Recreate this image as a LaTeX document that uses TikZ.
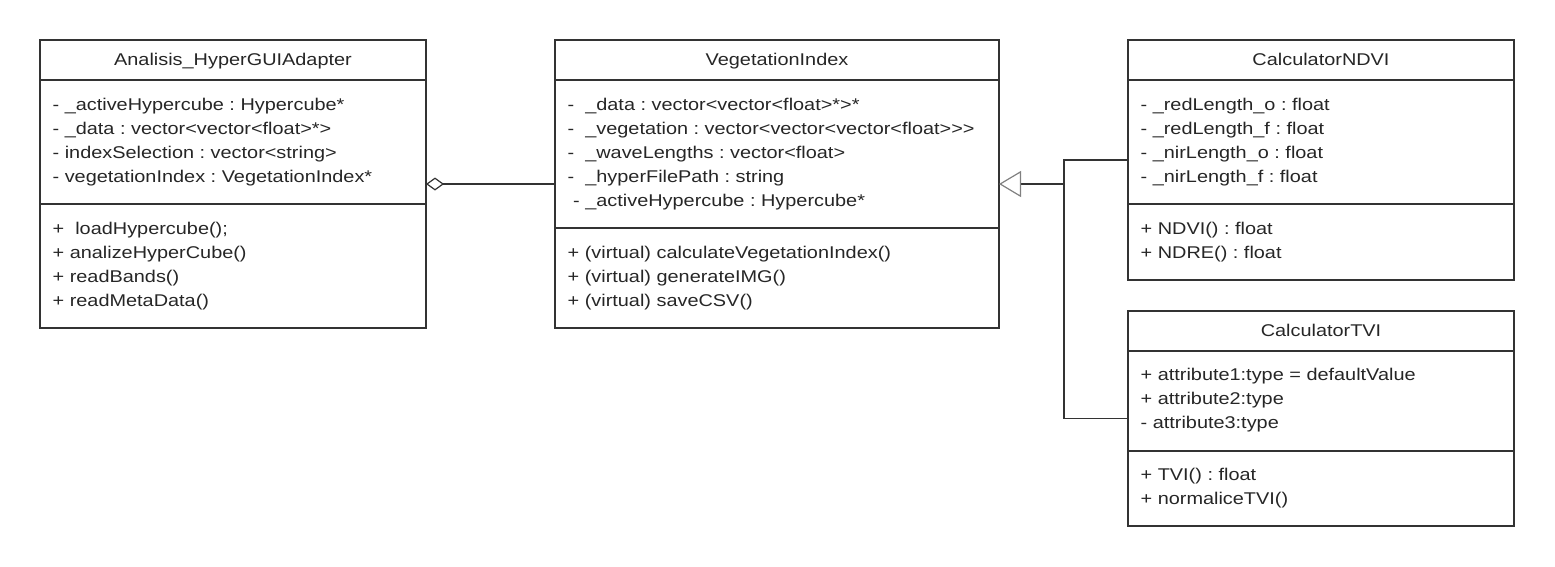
\documentclass[tikz,border=0pt]{standalone}
\usepackage{fontspec}
\setmainfont{Liberation Sans}[FakeStretch=1.17]
\usetikzlibrary{arrows.meta}
\definecolor{umlline}{HTML}{333333}
\definecolor{umltext}{HTML}{262626}

\begin{document}
\frenchspacing
\begin{tikzpicture}[x=1pt,y=-1pt,line width=1.3pt,>=latex,
    classbox/.style={draw=umlline,anchor=north west,inner sep=0pt,outer sep=0pt},
    title/.style={anchor=base,inner sep=0pt,text=umltext,font=\fontsize{17}{20}\selectfont},
    member/.style={anchor=base west,inner sep=0pt,text=umltext,font=\fontsize{17}{20}\selectfont}]

	\useasboundingbox (0,0) rectangle (1555,566);

	% class boxes
	\node[classbox,minimum width=386pt,minimum height=288pt] (adapter) at (40,40) {};
	\node[classbox,minimum width=444pt,minimum height=288pt] (vegidx) at (555,40) {};
	\node[classbox,minimum width=386pt,minimum height=240pt] (ndvi) at (1128,40) {};
	\node[classbox,minimum width=386pt,minimum height=215pt] (tvi) at (1128,311) {};

	% compartment lines
	\draw[umlline] (40,80) -- (426,80) (40,204) -- (426,204);
	\draw[umlline] (555,80) -- (999,80) (555,228) -- (999,228);
	\draw[umlline] (1128,80) -- (1514,80) (1128,204) -- (1514,204);
	\draw[umlline] (1128,351) -- (1514,351) (1128,451) -- (1514,451);

	% class names
	\node[title] (adapter-t) at (233,65) {Analisis\_HyperGUIAdapter};
	\node[title] (vegidx-t) at (777,65) {VegetationIndex};
	\node[title] (ndvi-t) at (1321,65) {CalculatorNDVI};
	\node[title] (tvi-t) at (1321,336) {CalculatorTVI};

	% Analisis_HyperGUIAdapter members
	\foreach \txt [count=\i] in {{- \_activeHypercube : Hypercube*},
	      {- \_data : vector<vector<float>*>},
	      {- indexSelection : vector<string>},
	      {- vegetationIndex : VegetationIndex*}}
	  \node[member] (adapter-a\i) at (52,{110+24*(\i-1)}) {\txt};
	\foreach \txt [count=\i] in {{+\ \ loadHypercube();},
	      {+ analizeHyperCube()},
	      {+ readBands()},
	      {+ readMetaData()}}
	  \node[member] (adapter-m\i) at (52,{234+24*(\i-1)}) {\txt};

	% VegetationIndex members
	\foreach \txt [count=\i] in {{-\ \ \_data : vector<vector<float>*>*},
	      {-\ \ \_vegetation : vector<vector<vector<float>{}>{}>},
	      {-\ \ \_waveLengths : vector<float>},
	      {-\ \ \_hyperFilePath : string},
	      {\ - \_activeHypercube : Hypercube*}}
	  \node[member] (vegidx-a\i) at (567,{110+24*(\i-1)}) {\txt};
	\foreach \txt [count=\i] in {{+ (virtual) calculateVegetationIndex()},
	      {+ (virtual) generateIMG()},
	      {+ (virtual) saveCSV()}}
	  \node[member] (vegidx-m\i) at (567,{258+24*(\i-1)}) {\txt};

	% CalculatorNDVI members
	\foreach \txt [count=\i] in {{- \_redLength\_o : float},
	      {- \_redLength\_f : float},
	      {- \_nirLength\_o : float},
	      {- \_nirLength\_f : float}}
	  \node[member] (ndvi-a\i) at (1140,{110+24*(\i-1)}) {\txt};
	\foreach \txt [count=\i] in {{+ NDVI() : float},
	      {+ NDRE() : float}}
	  \node[member] (ndvi-m\i) at (1140,{234+24*(\i-1)}) {\txt};

	% CalculatorTVI members
	\foreach \txt [count=\i] in {{+ attribute1:type = defaultValue},
	      {+ attribute2:type},
	      {- attribute3:type}}
	  \node[member] (tvi-a\i) at (1140,{380+24*(\i-1)}) {\txt};
	\foreach \txt [count=\i] in {{+ TVI() : float},
	      {+ normaliceTVI()}}
	  \node[member] (tvi-m\i) at (1140,{480+24*(\i-1)}) {\txt};

	% aggregation
	\draw[umlline,{Diamond[open,length=18pt,width=13pt,line width=1.2pt]}-] (adapter.east) -- (vegidx.west);

	% generalization
	\coordinate (junc) at (1064,184);
	\draw[umlline,-{Triangle[open,length=22pt,width=26pt,line width=1.2pt,color=gray]}] (junc) -- (vegidx.east);
	\draw[umlline] (ndvi.west) -- (ndvi.west -| junc) -- (tvi.west -| junc) -- (tvi.west);

\end{tikzpicture}
\end{document}
